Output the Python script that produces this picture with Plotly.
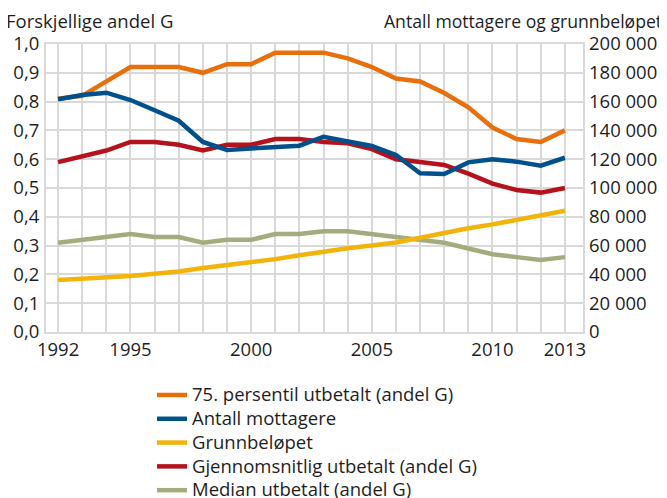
import plotly.graph_objects as go

years = list(range(1992, 2014))
p75 = [0.81, 0.82, 0.87, 0.92, 0.92, 0.92, 0.90, 0.93, 0.93, 0.97, 0.97, 0.97,
       0.95, 0.92, 0.88, 0.87, 0.83, 0.78, 0.71, 0.67, 0.66, 0.70]
antall = [161600, 164600, 166200, 161100, 154000, 146700, 132000, 126400, 127500,
          128700, 129400, 135600, 132200, 129200, 122900, 110200, 109700, 117800,
          119900, 118300, 115500, 121000]
grunnbelop = [36167, 37033, 37820, 38847, 40410, 42000, 44413, 46423, 48377, 50603,
              53233, 55964, 58139, 60059, 62161, 65505, 69108, 72006, 74721, 78024,
              81153, 84204]
snitt = [0.59, 0.61, 0.63, 0.66, 0.66, 0.65, 0.63, 0.65, 0.65, 0.67, 0.67, 0.66,
         0.655, 0.635, 0.60, 0.59, 0.58, 0.55, 0.515, 0.493, 0.484, 0.50]
median = [0.31, 0.32, 0.33, 0.34, 0.33, 0.33, 0.31, 0.32, 0.32, 0.34, 0.34, 0.35,
          0.35, 0.34, 0.33, 0.32, 0.31, 0.29, 0.27, 0.26, 0.25, 0.26]

xtick_labels = {1992: "1992", 1995: "1995", 2000: "2000", 2005: "2005", 2010: "2010", 2013: "2013"}

C_OR = "#E8700A"
C_BL = "#00508C"
C_YE = "#F2B40A"
C_RE = "#B5121B"
C_ME = "#A6AB7E"
GRID = "#D9D9D9"
FONT = "Open Sans"
TXT = "#1E1E1E"


def leg(name):
    return '<span style="font-size:18.5px">' + name + '</span>'


fig = go.Figure()
lw = 4.5
fig.add_trace(go.Scatter(x=years, y=median, name=leg("Median utbetalt (andel G)"), mode="lines",
                         line=dict(color=C_ME, width=lw), legendrank=5))
fig.add_trace(go.Scatter(x=years, y=snitt, name=leg("Gjennomsnitlig utbetalt (andel G)"), mode="lines",
                         line=dict(color=C_RE, width=lw), legendrank=4))
fig.add_trace(go.Scatter(x=years, y=grunnbelop, name=leg("Grunnbeløpet"), mode="lines", yaxis="y2",
                         line=dict(color=C_YE, width=lw), legendrank=3))
fig.add_trace(go.Scatter(x=years, y=antall, name=leg("Antall mottagere"), mode="lines", yaxis="y2",
                         line=dict(color=C_BL, width=lw), legendrank=2))
fig.add_trace(go.Scatter(x=years, y=p75, name=leg("75. persentil utbetalt (andel G)"), mode="lines",
                         line=dict(color=C_OR, width=lw), legendrank=1))

# the page body has an 8px default margin, so the figure is 8px smaller and shifted
fig.update_layout(
    width=659, height=490,
    margin=dict(l=38, r=84, t=36, b=166, autoexpand=False),
    paper_bgcolor="white", plot_bgcolor="white",
    separators=", ",
    font=dict(family=FONT, size=18.5, color=TXT),
    showlegend=True,
    legend=dict(x=(152 - 46) / 537, xanchor="left", y=-0.16, yanchor="top",
                font=dict(size=16.0, color=TXT), bgcolor="rgba(0,0,0,0)",
                tracegroupgap=0, itemwidth=30),
    xaxis=dict(range=[1991.5, 2013.75], tickmode="array", tickvals=years,
               ticktext=[xtick_labels.get(y, "") for y in years],
               showgrid=True, gridcolor=GRID, gridwidth=2,
               showline=True, linecolor=GRID, linewidth=2, mirror=True,
               zeroline=False, ticks="", tickfont=dict(size=18.5, color=TXT)),
    yaxis=dict(range=[0, 1.0], dtick=0.1, tickformat=".1f",
               showgrid=True, gridcolor=GRID, gridwidth=2,
               showline=True, linecolor=GRID, linewidth=2, mirror=True,
               zeroline=False, ticks="", ticklabelstandoff=1,
               tickfont=dict(size=18.5, color=TXT)),
    yaxis2=dict(range=[0, 200000], dtick=20000, tickformat=",d", overlaying="y", side="right",
                showgrid=False, zeroline=False, showline=False, ticks="",
                ticklabelstandoff=5, tickfont=dict(size=18.5, color=TXT)),
    annotations=[
        dict(text="Forskjellige andel G", xref="paper", yref="paper", x=0, y=1,
             xshift=-42, yshift=9, xanchor="left", yanchor="bottom", showarrow=False,
             font=dict(size=18.5, color=TXT, family=FONT)),
        dict(text="Antall mottagere og grunnbeløpet", xref="paper", yref="paper", x=1, y=1,
             xshift=81, yshift=9, xanchor="right", yanchor="bottom", showarrow=False,
             font=dict(size=17.6, color=TXT, family=FONT)),
    ],
)

fig.write_html("out.html")
